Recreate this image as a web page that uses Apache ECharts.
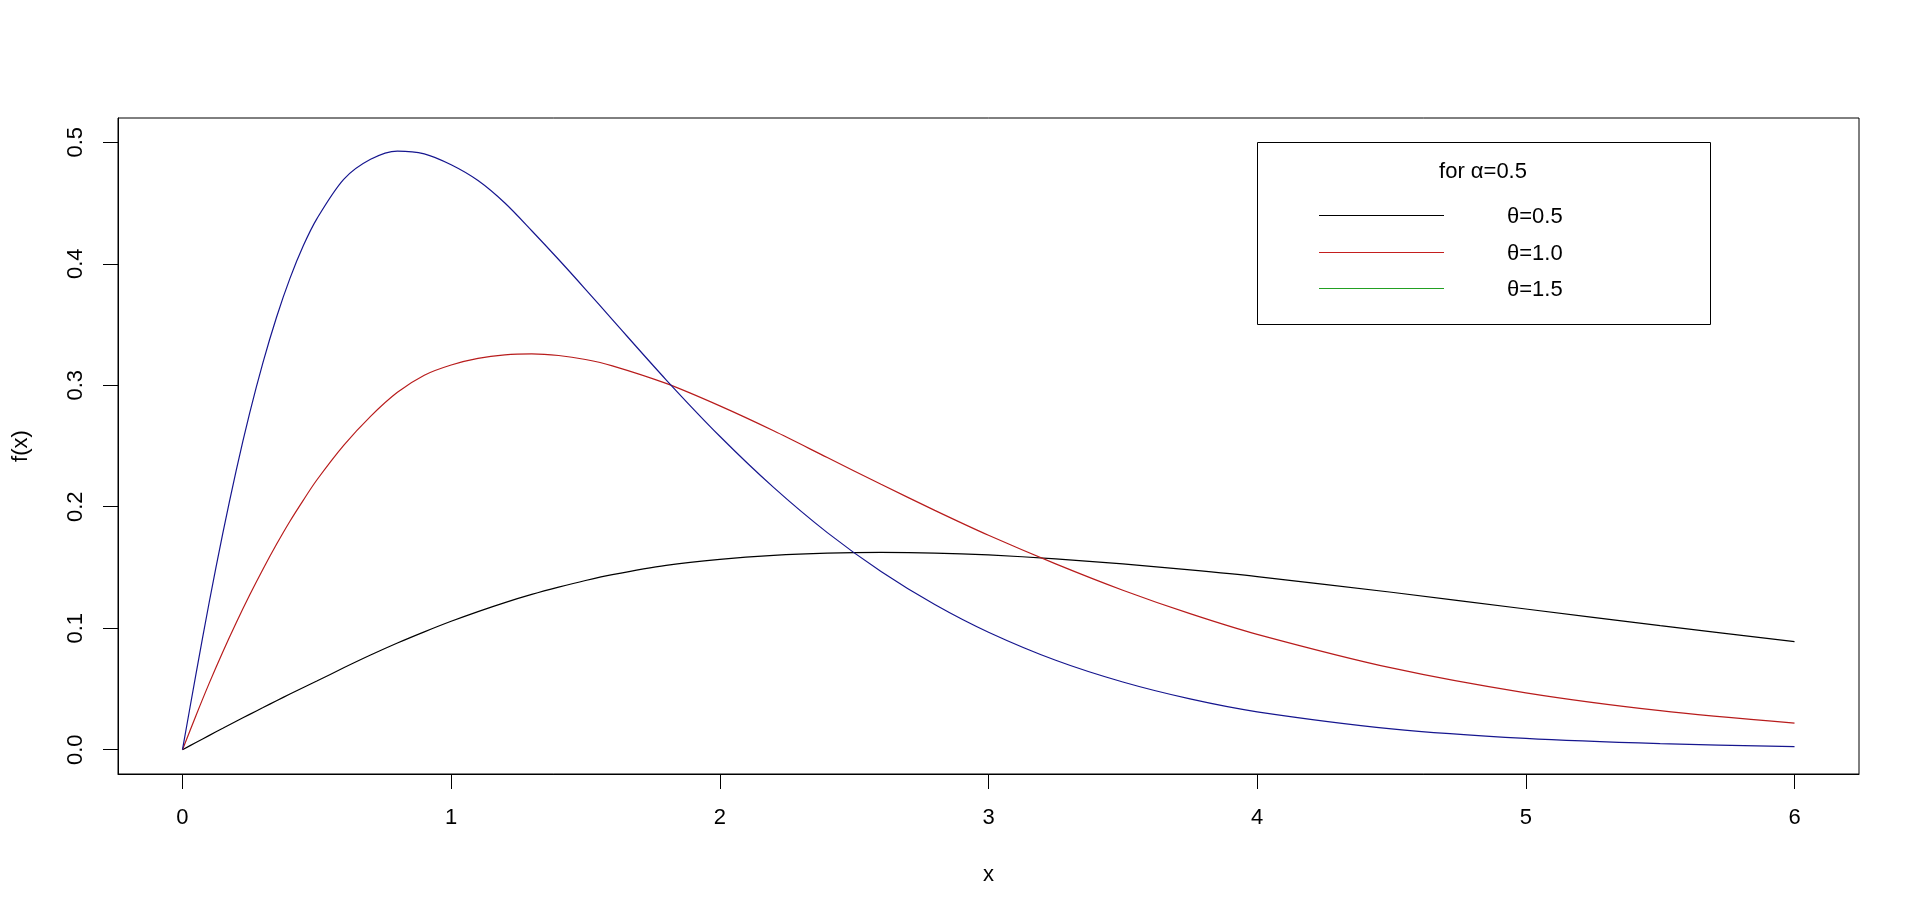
<!DOCTYPE html>
<html>
<head>
<meta charset="utf-8">
<script src="https://cdn.jsdelivr.net/npm/echarts@6/dist/echarts.min.js"></script>
<style>
html,body{margin:0;padding:0;background:#fff;}
#chart{width:1920px;height:921px;}
</style>
</head>
<body>
<div id="chart"></div>
<script>
var xs = [0, 0.05, 0.1, 0.15, 0.2, 0.25, 0.3, 0.35, 0.4, 0.45, 0.5, 0.6, 0.7, 0.8, 0.9, 1.0, 1.1, 1.2, 1.3, 1.4, 1.5, 1.6, 1.8, 2.0, 2.2, 2.4, 2.6, 2.8, 3.0, 3.25, 3.5, 3.75, 4.0, 4.5, 5.0, 5.5, 6.0];
// theta = 0.5 (black)
var theta05 = [0, 0.0059, 0.0118, 0.0176, 0.0234, 0.0291, 0.0347, 0.0403, 0.0458, 0.0512, 0.0565, 0.0674, 0.0779, 0.0878, 0.0970, 0.1057, 0.1137, 0.1211, 0.1278, 0.1338, 0.1393, 0.1441, 0.1517, 0.1567, 0.1600, 0.1618, 0.1624, 0.1619, 0.1603, 0.1571, 0.1529, 0.1480, 0.1425, 0.1296, 0.1158, 0.1021, 0.0890];
// theta = 1.0 (red)
var theta10 = [0, 0.0280, 0.0550, 0.0805, 0.1045, 0.1273, 0.1488, 0.1691, 0.1881, 0.2055, 0.2220, 0.2505, 0.2744, 0.2942, 0.3083, 0.3167, 0.3221, 0.3250, 0.3258, 0.3245, 0.3212, 0.3160, 0.3015, 0.2830, 0.2625, 0.2405, 0.2185, 0.1970, 0.1765, 0.1530, 0.1313, 0.1120, 0.0950, 0.0673, 0.0468, 0.0321, 0.0218];
// theta = 1.5 (drawn blue)
var theta15 = [0, 0.0620, 0.1220, 0.1780, 0.2300, 0.2770, 0.3190, 0.3560, 0.3880, 0.4150, 0.4370, 0.4695, 0.4860, 0.4928, 0.4905, 0.4815, 0.4685, 0.4500, 0.4272, 0.4035, 0.3790, 0.3540, 0.3045, 0.2580, 0.2159, 0.1787, 0.1467, 0.1195, 0.0967, 0.0736, 0.0557, 0.0418, 0.0312, 0.0172, 0.0093, 0.0050, 0.0026];

var xTicks = [0, 1, 2, 3, 4, 5, 6];
var yTicks = [0, 0.1, 0.2, 0.3, 0.4, 0.5];
var seriesNames = ['θ=0.5', 'θ=1.0', 'θ=1.5'];
var legendTitle = 'for α=0.5';

var FONT = "'Liberation Sans', Arial, sans-serif";
var lineColors = ['#000000', '#b81c1c', '#16168f'];
var legendColors = ['#000000', '#c41e1e', '#22a022'];

function pairs(vals){ return xs.map(function(x,i){ return [x, vals[i]]; }); }

var chart = echarts.init(document.getElementById('chart'), null, {renderer:'canvas'});

var legendGraphics = [
  {type:'rect', shape:{x:1257.5, y:142.5, width:453, height:182}, style:{fill:'#fff', stroke:'#000', lineWidth:1}, z:100},
  {type:'text', x:1483, y:172, style:{text:legendTitle, font:"22px " + FONT, fill:'#000', align:'center', verticalAlign:'middle'}, z:101}
];
var rowY = [215.5, 252.5, 288.5];
seriesNames.forEach(function(n,i){
  legendGraphics.push({type:'line', shape:{x1:1319, y1:rowY[i], x2:1444, y2:rowY[i]}, style:{stroke:legendColors[i], lineWidth:1}, z:101});
  legendGraphics.push({type:'text', x:1507, y:rowY[i]+1, style:{text:n, font:"22px " + FONT, fill:'#000', align:'left', verticalAlign:'middle'}, z:101});
});

var option = {
  animation:false,
  backgroundColor:'#fff',
  grid:{left:118, right:61, top:118, bottom:147, show:true, borderColor:'#000', borderWidth:1, backgroundColor:'transparent'},
  xAxis:{
    type:'value', min:-0.24, max:6.24,
    name:'x', nameLocation:'middle', nameGap:90,
    nameTextStyle:{fontFamily:FONT, fontSize:22, color:'#000'},
    axisLine:{show:true, onZero:false, lineStyle:{color:'#000', width:1}},
    axisTick:{show:true, length:15, inside:false, customValues:xTicks, lineStyle:{color:'#000'}},
    axisLabel:{show:true, margin:33, customValues:xTicks, fontFamily:FONT, fontSize:22, color:'#000', formatter:function(v){return String(v);}},
    splitLine:{show:false}
  },
  yAxis:{
    type:'value', min:-0.02, max:0.52,
    name:'f(x)', nameLocation:'middle', nameGap:86,
    nameTextStyle:{fontFamily:FONT, fontSize:22, color:'#000'},
    axisLine:{show:true, onZero:false, lineStyle:{color:'#000', width:1}},
    axisTick:{show:true, length:15, inside:false, customValues:yTicks, lineStyle:{color:'#000'}},
    axisLabel:{show:true, rotate:90, margin:31, customValues:yTicks, fontFamily:FONT, fontSize:22, color:'#000', formatter:function(v){return v.toFixed(1);}},
    splitLine:{show:false}
  },
  series:[
    {name:seriesNames[0], type:'line', data:pairs(theta05), symbol:'none', smooth:0.3, lineStyle:{color:lineColors[0], width:1.2}, itemStyle:{color:lineColors[0]}},
    {name:seriesNames[1], type:'line', data:pairs(theta10), symbol:'none', smooth:0.3, lineStyle:{color:lineColors[1], width:1.2}, itemStyle:{color:lineColors[1]}},
    {name:seriesNames[2], type:'line', data:pairs(theta15), symbol:'none', smooth:0.3, lineStyle:{color:lineColors[2], width:1.2}, itemStyle:{color:lineColors[2]}}
  ],
  graphic:legendGraphics
};
chart.setOption(option);
</script>
</body>
</html>
